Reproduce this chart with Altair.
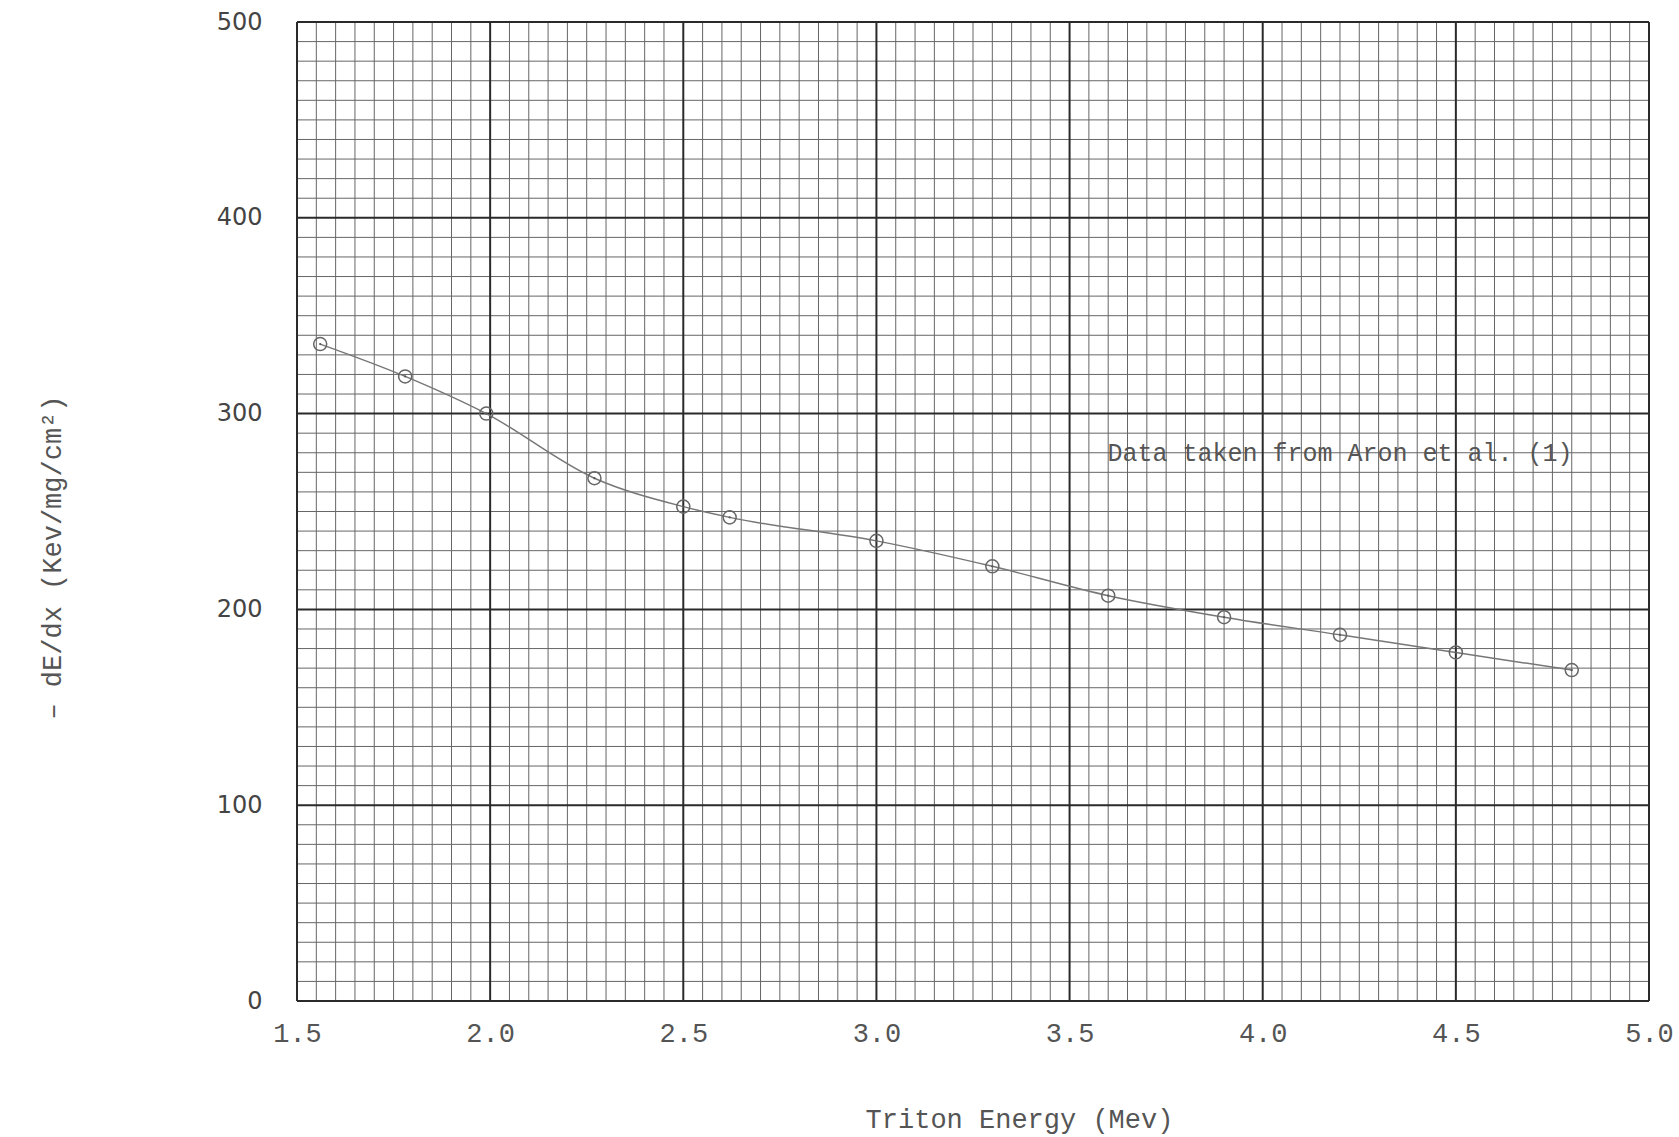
import altair as alt
import pandas as pd
import numpy as np

# Data
energy = [1.56, 1.78, 1.99, 2.27, 2.50, 2.62, 3.00, 3.30, 3.60, 3.90, 4.20, 4.50, 4.80]
dedx = [335.5, 319, 300, 267, 252.5, 247, 235, 222, 207, 196, 187, 178, 169]
x_ticks = [1.5, 2.0, 2.5, 3.0, 3.5, 4.0, 4.5, 5.0]
y_ticks = [0, 100, 200, 300, 400, 500]
note_text = ["Data taken from Aron et al. (1)"]
note_x = [4.2]
note_y = [280]

df = pd.DataFrame({"E": energy, "S": dedx})
note = pd.DataFrame({"E": note_x, "S": note_y, "t": note_text})

# graph-paper grid
xv = np.round(np.arange(1.5, 5.0001, 0.05), 2)
yv = np.arange(0, 501, 10)
gx = pd.DataFrame({"E": xv, "major": [abs(v * 2 - round(v * 2)) < 1e-6 for v in xv]})
gy = pd.DataFrame({"S": yv, "major": [v % 100 == 0 for v in yv]})

xs = alt.Scale(domain=[1.5, 5.0], nice=False, zero=False)
ys = alt.Scale(domain=[0, 500], nice=False, zero=True)

x_axis = alt.Axis(values=x_ticks, format=".1f", grid=False, domain=False, ticks=False,
                  labelFont="Liberation Mono", labelFontSize=27, labelColor="#555555",
                  labelPadding=19, labelFlush=False,
                  title="Triton Energy (Mev)", titleFont="Liberation Mono",
                  titleFontSize=27, titleFontWeight="normal", titleColor="#555555",
                  titleX=722, titleY=126, titleAlign="center", titleBaseline="alphabetic")
y_axis = alt.Axis(values=y_ticks, grid=False, domain=False, ticks=False,
                  labelFont="DejaVu Sans", labelFontSize=24, labelColor="#444444",
                  labelPadding=35, labelBaseline="middle", labelFlush=False,
                  title="– dE/dx  (Kev/mg/cm²)", titleFont="Liberation Mono",
                  titleFontSize=27, titleFontWeight="normal", titleColor="#555555",
                  titleX=-245, titleY=535, titleAngle=270, titleAlign="center",
                  titleBaseline="middle")

X = alt.X("E:Q", scale=xs, axis=x_axis, title="Triton Energy (Mev)")
Y = alt.Y("S:Q", scale=ys, axis=y_axis, title="– dE/dx  (Kev/mg/cm²)")

W, H = 1352, 979

minor_v = alt.Chart(gx[~gx.major]).mark_rule(color="#666666", strokeWidth=1).encode(x=X)
minor_h = alt.Chart(gy[~gy.major]).mark_rule(color="#666666", strokeWidth=1).encode(y=Y)
major_v = alt.Chart(gx[gx.major]).mark_rule(color="#2a2a2a", strokeWidth=2).encode(x=X)
major_h = alt.Chart(gy[gy.major]).mark_rule(color="#2a2a2a", strokeWidth=2).encode(y=Y)

line = alt.Chart(df).mark_line(color="#777777", strokeWidth=1.5, interpolate="monotone").encode(
    x=X, y=Y)
circles = alt.Chart(df).mark_point(shape="circle", filled=False, color="#666666",
                                   strokeWidth=1.5, size=170, opacity=1).encode(x=X, y=Y)
dots = alt.Chart(df).mark_point(shape="circle", filled=True, color="#555555",
                                size=5, opacity=1).encode(x=X, y=Y)
label = alt.Chart(note).mark_text(font="Liberation Mono", fontSize=25, color="#555555",
                                  align="center", baseline="middle").encode(
    x=X, y=Y, text="t:N")

chart = alt.layer(minor_v, minor_h, major_v, major_h, line, circles, dots, label).properties(
    width=W, height=H,
    autosize=alt.AutoSizeParams(type="none"),
    padding={"left": 297, "top": 22, "right": 30, "bottom": 136},
    background="#ffffff",
).configure_view(stroke=None)

chart.save("out.html", embed_options={"renderer": "svg", "actions": False})
